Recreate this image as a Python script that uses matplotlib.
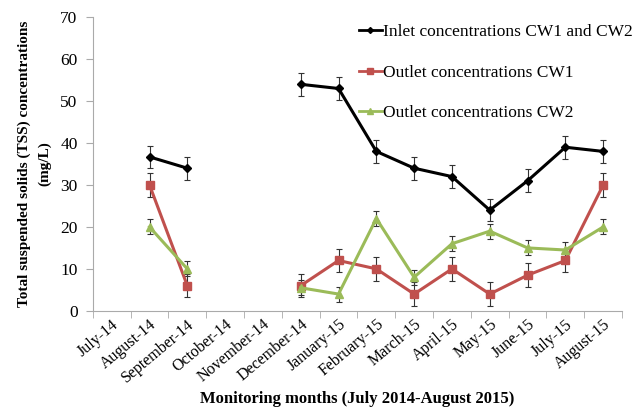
import numpy as np
import matplotlib
matplotlib.use("Agg")
import matplotlib.pyplot as plt
import matplotlib.transforms as mtransforms
from matplotlib.lines import Line2D

months = ["July-14", "August-14", "September-14", "October-14", "November-14",
          "December-14", "January-15", "February-15", "March-15", "April-15",
          "May-15", "June-15", "July-15", "August-15"]

nan = np.nan
inlet = [nan, 36.7, 34, nan, nan, 54, 53, 38, 34, 32, 24, 31, 39, 38]
inlet_err = [nan, 2.7, 2.7, nan, nan, 2.7, 2.7, 2.7, 2.7, 2.7, 2.7, 2.7, 2.7, 2.7]
cw1 = [nan, 30, 6, nan, nan, 6, 12, 10, 4, 10, 4, 8.5, 12, 30]
cw1_err = [nan, 2.8, 2.8, nan, nan, 2.8, 2.8, 2.8, 2.8, 2.8, 2.8, 2.8, 2.8, 2.8]
cw2 = [nan, 20, 10, nan, nan, 5.5, 4, 22, 8, 16, 19, 15, 14.5, 20]
cw2_err = [nan, 1.8, 1.8, nan, nan, 1.8, 1.8, 1.8, 1.8, 1.8, 1.8, 1.8, 1.8, 1.8]

plt.rcParams["font.family"] = ["Liberation Serif", "DejaVu Serif"]

fig = plt.figure(figsize=(6.4, 4.09), dpi=100)
ax = fig.add_axes([0.145, 0.24, 0.827, 0.718])

x = np.arange(len(months))
series = [
    (inlet, inlet_err, "Inlet concentrations CW1 and CW2", "black", "D", 4),
    (cw1, cw1_err, "Outlet concentrations CW1", "#C0504D", "s", 6),
    (cw2, cw2_err, "Outlet concentrations CW2", "#9BBB59", "^", 6),
]
handles = []
for vals, err, label, color, marker, ms in series:
    ax.errorbar(x, vals, yerr=err, color=color, marker=marker, markersize=ms,
                linewidth=2.2, ecolor="#333333", elinewidth=0.8, capsize=2,
                capthick=0.8, zorder=3)
    handles.append(Line2D([], [], color=color, marker=marker,
                          markersize=ms - 1, linewidth=2, label=label))

ax.set_xlim(-0.5, len(months) - 0.5)
ax.set_ylim(0, 70)
ax.set_yticks(range(0, 71, 10))
ax.set_xticks(x)
ax.set_xticklabels(months, rotation=40, ha="right", rotation_mode="anchor",
                   fontsize=11.5)
shift = mtransforms.ScaledTranslation(-9 / 100, -8 / 100, fig.dpi_scale_trans)
for lbl in ax.get_xticklabels():
    lbl.set_transform(lbl.get_transform() + shift)
ax.set_xticks(np.arange(-0.5, len(months), 1), minor=True)
ax.tick_params(axis="x", which="major", length=0, pad=4)
ax.tick_params(axis="x", which="minor", length=5, color="#aaaaaa",
               direction="out")
ax.tick_params(axis="y", labelsize=12.5, length=5, color="#aaaaaa", pad=6)

for s in ["top", "right"]:
    ax.spines[s].set_visible(False)
for s in ["left", "bottom"]:
    ax.spines[s].set_color("#aaaaaa")

ax.set_ylabel("Total suspended solids (TSS) concentrations\n(mg/L)",
              fontweight="bold", fontsize=11, linespacing=1.7, labelpad=6)
ax.set_xlabel("Monitoring months (July 2014-August 2015)",
              fontweight="bold", fontsize=12, labelpad=4)

ax.legend(handles=handles, loc="upper left", bbox_to_anchor=(0.49, 1.0),
          frameon=False, fontsize=12.5, handlelength=1.3, handletextpad=0.1,
          labelspacing=1.4, borderaxespad=0)

fig.savefig("out.png", dpi=100)
